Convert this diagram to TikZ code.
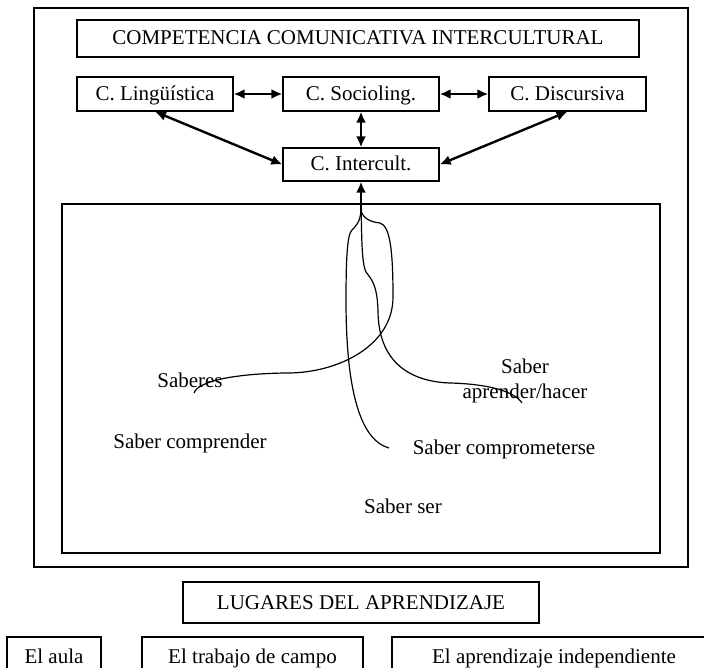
\documentclass[tikz,border=0pt]{standalone}
\usepackage{fontspec}
\setmainfont{Liberation Serif}
\usetikzlibrary{positioning, arrows.meta}

\begin{document}
\begin{tikzpicture}[x=1pt, y=-1pt, font=\fontsize{21}{25}\selectfont,
            caja/.style={draw, line width=1.3pt, inner sep=0pt, text height=16pt, text depth=3pt},
            flecha/.style={line width=2.4pt, {Latex[length=11pt,width=10pt]}-{Latex[length=11pt,width=10pt]}},
            subida/.style={line width=2.4pt, -{Latex[length=11pt,width=10pt]}},
            rama/.style={line width=1.2pt}]
            \clip (0,0) rectangle (704,668);

            \node[caja, minimum width=654, minimum height=559] (marco) at (361,287.5) {};
            \node[caja, minimum width=562, minimum height=37] (titulo) at (358,38.5) {COMPETENCIA COMUNICATIVA INTERCULTURAL};

            \node[caja, minimum width=156, minimum height=34] (ling) at (155,94) {C. Lingüística};
            \node[caja, minimum width=156, minimum height=34] (socio) at (361,94) {C. Socioling.};
            \node[caja, minimum width=157, minimum height=34] (disc) at (567.5,94) {C. Discursiva};
            \node[caja, minimum width=156, minimum height=33] (inter) at (361,164.5) {C. Intercult.};

            \node[caja, minimum width=598, minimum height=349] (saberesbox) at (361,378.5) {};

            \draw[flecha] (ling) -- (socio);
            \draw[flecha] (socio) -- (disc);
            \draw[flecha] (socio) -- (inter);
            \draw[flecha] (ling.south) -- (inter.west);
            \draw[flecha] (disc.south) -- (inter.east);

            % los saberes
            \node (saberes) at (190,380) {Saberes};
            \node (comprender) at (190,443) {Saber comprender};
            \node[align=center] (aprender) at (525,381) {Saber\\aprender/hacer};
            \node (comprometer) at (504,449) {Saber comprometerse};
            \node (ser) at (403,506) {Saber ser};

            \coordinate (raiz) at (361,211);
            \coordinate (finA) at (194,393);
            \coordinate (finB) at (389,448);
            \coordinate (finC) at (522,403);
            \draw[subida] (raiz) -- (inter);
            \draw[rama] (raiz) .. controls (363,218) and (370,222) .. (380,223)
                .. controls (390,226) and (393,250) .. (393,297)
                .. controls (393,345) and (340,372) .. (290,373)
                .. controls (255,373) and (220,377) .. (205,384)
                .. controls (198,387) and (195,390) .. (finA);
            \draw[rama] (raiz) .. controls (360,222) and (356,226) .. (352,230)
                .. controls (348,234) and (346,250) .. (346,300)
                .. controls (346,390) and (360,440) .. (finB);
            \draw[rama] (raiz) .. controls (362,230) and (361,262) .. (366,272)
                .. controls (372,280) and (377,285) .. (378,310)
                .. controls (378,370) and (420,382) .. (450,383)
                .. controls (490,384) and (515,392) .. (finC);

            \node[caja, minimum width=356, minimum height=41] (lugares) at (361,602.5) {LUGARES DEL APRENDIZAJE};
            \node[caja, minimum width=94, minimum height=40] (aula) at (54,657) {El aula};
            \node[caja, minimum width=221, minimum height=40] (campo) at (252.5,657) {El trabajo de campo};
            \node[caja, minimum width=324, minimum height=40] (indep) at (554,657) {El aprendizaje independiente};
\end{tikzpicture}
\end{document}
